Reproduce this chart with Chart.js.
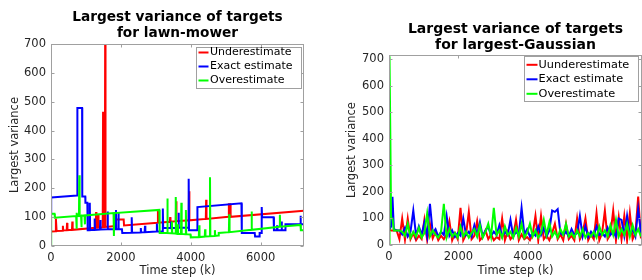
<!DOCTYPE html>
<html>
<head>
<meta charset="utf-8">
<script src="https://cdn.jsdelivr.net/npm/chart.js@4"></script>
<style>
  body { margin: 0; background: #fff; }
  canvas { position: absolute; top: 0; }
  #chart1 { left: 0; }
  #chart2 { left: 321px; }
</style>
</head>
<body>
<canvas id="chart1" width="321" height="280"></canvas>
<canvas id="chart2" width="321" height="280"></canvas>
<script>
// tick labels
const xTicks = [0, 2000, 4000, 6000]
const yTicks = [0, 100, 200, 300, 400, 500, 600, 700]

// lawn-mower (left)
const lawnUnderX = [0,130,140,160,330,340,350,450,460,470,600,610,620,1280,1290,1300,1340,1350,1360,1480,1490,1500,1540,1550,1560,1850,1860,2080,2090,3050,3060,3070,3400,3410,3420,3570,3580,3590,3940,3950,3960,4430,4440,4450,5080,5090,5130,5140,7240]
const lawnUnderY = [50,51,95,52,53,70,54,55,80,55,56,85,56,63,118,63,63,110,64,65,465,65,65,720,66,69,92,92,71,81,125,81,84,100,84,86,155,86,89,190,89,94,160,94,101,145,145,101,122]

const lawnExactX = [0,5,750,755,890,895,980,985,1040,1050,1100,1110,1120,1240,1250,1260,1400,1410,1420,1610,1620,1630,1850,1860,1870,1920,1930,1940,2030,2040,2300,2310,2320,2560,2570,2580,2680,2690,2700,3020,3030,3040,3190,3200,3210,3420,3430,3440,3640,3650,3660,3930,3940,3950,4180,4190,5450,5460,5830,5840,5960,5970,6020,6030,6040,6370,6380,6460,6470,6480,6590,6600,6610,6700,6710,7130,7140,7150,7240]
const lawnExactY = [110,168,175,478,478,172,172,150,150,55,55,150,55,56,95,56,57,90,57,58,120,58,58,125,58,58,115,58,58,45,46,100,46,47,62,47,48,70,48,50,78,50,50,130,62,62,85,62,63,115,63,64,233,55,55,135,148,45,45,33,33,45,45,135,100,100,55,55,72,55,55,85,55,55,75,75,105,75,75]

const lawnOverX = [0,5,100,110,720,730,740,750,800,810,820,860,870,880,960,970,980,1790,1800,1810,3100,3110,3320,3330,3340,3450,3460,3470,3560,3570,3580,3620,3630,3640,3720,3730,3740,3850,3860,3870,3990,4000,4230,4240,4250,4400,4410,4420,4540,4550,4560,4680,4690,4700,4790,4800,5090,5100,5110,5730,5740,5750,6540,6550,6560,7140,7150,7240]
const lawnOverY = [0,112,112,98,104,60,115,104,104,245,104,105,65,105,106,75,106,114,35,114,125,45,45,165,45,44,85,44,43,170,43,42,75,42,42,150,42,41,125,41,40,30,31,72,31,33,58,33,34,238,34,35,55,35,36,45,48,110,48,56,120,56,67,108,67,73,55,55]

// largest-Gaussian (right)
const gaussSteps = [0,15,40,60,100,140,220,300,380,460,540,620,700,780,860,940,1020,1100,1180,1260,1340,1420,1500,1580,1660,1740,1820,1900,1980,2060,2140,2220,2300,2380,2460,2540,2620,2700,2780,2860,2940,3020,3100,3180,3260,3340,3420,3500,3580,3660,3740,3820,3900,3980,4060,4140,4220,4300,4380,4460,4540,4620,4700,4780,4860,4940,5020,5100,5180,5260,5340,5420,5500,5580,5660,5740,5820,5900,5980,6060,6140,6220,6300,6380,6460,6540,6620,6700,6780,6860,6940,7020,7100,7180,7260]
const gaussUnderY = [58,58,56,55,55,55,55,22,100,20,100,22,45,18,35,22,95,18,80,25,50,18,35,22,40,90,18,45,22,140,18,40,125,22,35,90,18,30,55,22,40,18,30,22,100,18,50,22,35,95,18,40,22,30,18,40,110,18,110,22,35,18,45,80,22,40,18,80,22,35,18,100,22,45,100,18,40,22,120,18,45,130,22,40,130,18,105,22,110,18,120,22,45,183,25]
const gaussExactY = [70,68,65,70,182,60,55,55,40,65,32,50,130,35,70,38,85,32,155,45,60,32,50,38,110,35,55,30,45,35,100,38,50,32,75,38,85,32,55,70,35,50,38,75,32,50,38,95,32,50,38,140,40,60,32,45,35,70,38,65,32,55,130,125,135,45,38,50,32,60,38,45,110,32,70,30,50,35,70,38,45,32,65,38,50,32,100,95,35,110,38,60,32,135,45]
const gaussOverY = [0,712,390,100,100,55,55,55,50,35,80,28,50,32,65,28,45,120,32,55,38,28,50,155,28,60,32,45,28,70,32,50,28,45,60,32,75,28,50,80,32,140,38,55,28,70,38,50,28,65,32,80,28,45,80,32,55,28,45,95,38,85,32,50,28,60,38,80,32,45,28,55,32,60,28,45,32,50,28,70,38,55,32,75,38,95,32,60,38,80,32,75,38,60,32]

const names1 = ['Underestimate', 'Exact estimate', 'Overestimate']
const names2 = ['Uunderestimate', 'Exact estimate', 'Overestimate']
const colors = ['#ff0000', '#0000ff', '#00ff00']

const FONT = 'DejaVu Sans'
Chart.defaults.font.family = FONT

function pts(xs, ys) {
    return xs.map((x, i) => ({x: x, y: ys[i]}))
}

// box, inward ticks and legend drawn like the matlab figure
const frame = {
    id: 'frame',
    afterDatasetsDraw(chart, args, o) {
        const ctx = chart.ctx
        const a = chart.chartArea
        const sx = chart.scales.x, sy = chart.scales.y
        ctx.save()
        const l = Math.round(a.left) + 0.5, r = Math.round(a.right) - 0.5
        const t = Math.round(a.top) + 0.5, b = Math.round(a.bottom) - 0.5
        ctx.strokeStyle = '#a0a0a0'
        ctx.lineWidth = 1
        ctx.strokeRect(l, t, r - l, b - t)
        ctx.beginPath()
        sx.ticks.forEach(tk => {
            const p = Math.round(sx.getPixelForValue(tk.value)) + 0.5
            ctx.moveTo(p, b); ctx.lineTo(p, b - 3)
            ctx.moveTo(p, t); ctx.lineTo(p, t + 3)
        })
        sy.ticks.forEach(tk => {
            const p = Math.round(sy.getPixelForValue(tk.value)) + 0.5
            ctx.moveTo(l, p); ctx.lineTo(l + 3, p)
            ctx.moveTo(r, p); ctx.lineTo(r - 3, p)
        })
        ctx.stroke()

        // legend
        const bx = Math.round(a.right - o.right - o.w) + 0.5
        const by = Math.round(a.top + o.top) + 0.5
        ctx.fillStyle = '#fff'
        ctx.fillRect(bx, by, o.w, o.h)
        ctx.strokeStyle = '#a0a0a0'
        ctx.strokeRect(bx, by, o.w, o.h)
        ctx.font = o.size + 'px "' + FONT + '"'
        ctx.textBaseline = 'middle'
        ctx.textAlign = 'left'
        o.names.forEach((n, i) => {
            const yy = by + o.first + i * o.row
            ctx.strokeStyle = colors[i]
            ctx.lineWidth = 2
            ctx.beginPath()
            ctx.moveTo(bx + 2, yy); ctx.lineTo(bx + 2 + o.sample, yy)
            ctx.stroke()
            ctx.fillStyle = '#000'
            ctx.fillText(n, bx + o.text, yy)
        })
        ctx.restore()
    }
}

function makeChart(ctx, sets, cfg) {
    return new Chart(ctx, {
        type: 'line',
        data: {
            datasets: sets.map((s, i) => ({
                label: cfg.names[i],
                data: s,
                borderColor: colors[i],
                borderWidth: 2,
                pointRadius: 0,
                tension: 0,
                fill: false,
                order: 3 - i
            }))
        },
        options: {
            responsive: false,
            animation: false,
            devicePixelRatio: 1,
            layout: {padding: {left: 0, right: cfg.padRight, top: 0, bottom: 0}},
            plugins: {
                legend: {display: false},
                tooltip: {enabled: false},
                title: {
                    display: true,
                    text: cfg.title,
                    color: '#000',
                    fullSize: false,
                    font: {family: FONT, size: cfg.titleSize, weight: 'bold', lineHeight: cfg.titleLH},
                    padding: {top: cfg.titleTop, bottom: cfg.titleBottom}
                },
                frame: cfg.legend
            },
            scales: {
                x: {
                    type: 'linear',
                    min: 0,
                    max: cfg.xMax,
                    grid: {display: false, drawTicks: false},
                    border: {display: false},
                    ticks: {color: '#262626', font: {size: 11.5}, padding: 5, maxRotation: 0, callback: v => String(v)},
                    title: {display: true, text: 'Time step (k)', color: '#262626', font: {size: 11.5}, padding: {top: 0, bottom: 2}},
                    afterBuildTicks: s => { s.ticks = xTicks.map(v => ({value: v})) },
                    afterFit: s => { s.height = cfg.xHeight }
                },
                y: {
                    type: 'linear',
                    min: 0,
                    max: cfg.yMax,
                    grid: {display: false, drawTicks: false},
                    border: {display: false},
                    ticks: {color: '#262626', font: {size: 11.5}, padding: 5, callback: v => String(v)},
                    title: {display: true, text: 'Largest variance', color: '#262626', font: {size: 11.5}, padding: {top: cfg.yTitlePad, bottom: 0}},
                    afterBuildTicks: s => { s.ticks = yTicks.map(v => ({value: v})) },
                    afterFit: s => { s.width = cfg.yWidth }
                }
            }
        },
        plugins: [frame]
    })
}

function renderChart() {
    const ctx1 = document.querySelector('#chart1').getContext('2d')
    makeChart(ctx1, [
        pts(lawnUnderX, lawnUnderY),
        pts(lawnExactX, lawnExactY),
        pts(lawnOverX, lawnOverY)
    ], {
        names: names1,
        title: ['Largest variance of targets', 'for lawn-mower'],
        titleSize: 13.7, titleLH: 1.17, titleTop: 9, titleBottom: 3,
        padRight: 17, xMax: 7240, yMax: 700, xHeight: 34, yWidth: 51, yTitlePad: 8,
        legend: {names: names1, right: 3, top: 3, w: 105, h: 41, first: 5, row: 14, size: 11, sample: 10, text: 13.5}
    })

    const ctx2 = document.querySelector('#chart2').getContext('2d')
    makeChart(ctx2, [
        pts(gaussSteps, gaussUnderY),
        pts(gaussSteps, gaussExactY),
        pts(gaussSteps, gaussOverY)
    ], {
        names: names2,
        title: ['Largest variance of targets', 'for largest-Gaussian'],
        titleSize: 14, titleLH: 1.15, titleTop: 21, titleBottom: 2,
        padRight: 0, xMax: 7290, yMax: 716, xHeight: 35, yWidth: 68, yTitlePad: 24,
        legend: {names: names2, right: 4, top: 1, w: 114, h: 45, first: 8.3, row: 14.5, size: 11.3, sample: 11, text: 14}
    })
}

renderChart()
</script>
</body>
</html>
